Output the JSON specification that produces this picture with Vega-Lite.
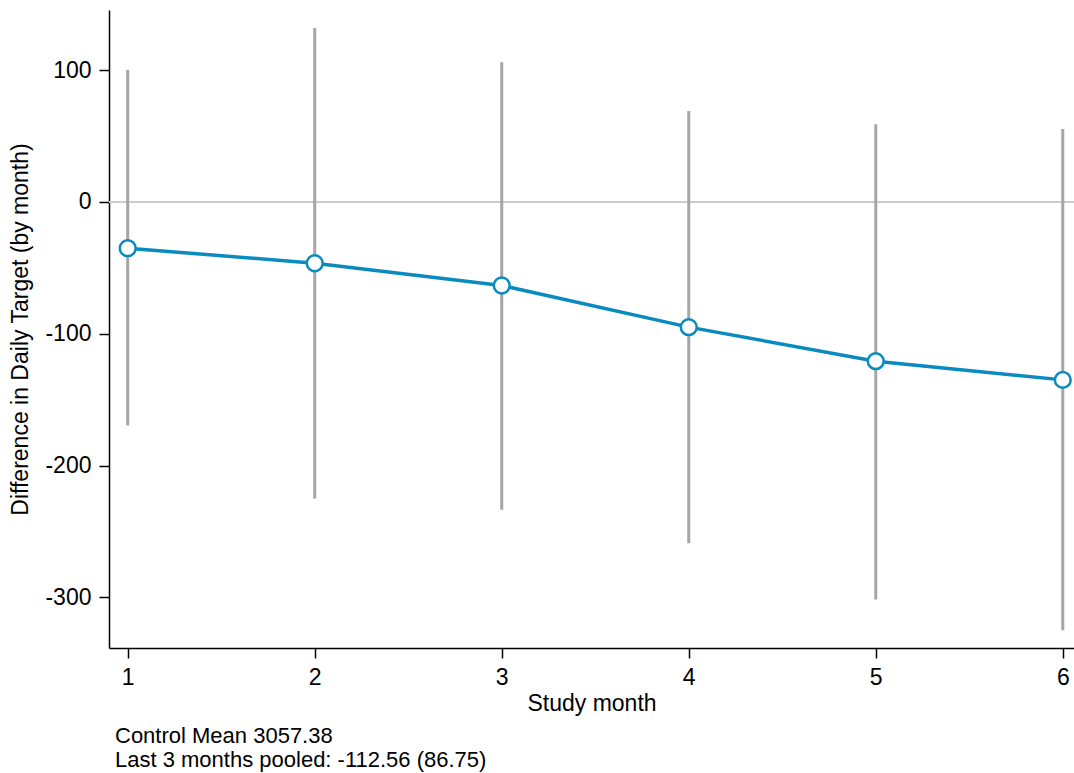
{
  "$schema": "https://vega.github.io/schema/vega-lite/v6.json",
  "width": 965,
  "height": 638,
  "autosize": {"type": "none"},
  "padding": {"left": 109, "top": 10, "right": 0, "bottom": 125},
  "background": "white",
  "title": {
    "text": ["Control Mean 3057.38", "Last 3 months pooled: -112.56 (86.75)"],
    "orient": "bottom",
    "anchor": "start",
    "frame": "group",
    "font": "Liberation Sans",
    "fontSize": 22,
    "fontWeight": "normal",
    "lineHeight": 24,
    "color": "black",
    "offset": 11,
    "dx": 6
  },
  "config": {
    "view": {"stroke": null},
    "axis": {
      "labelFont": "Liberation Sans",
      "titleFont": "Liberation Sans",
      "labelFontSize": 23,
      "titleFontSize": 23,
      "titleFontWeight": "normal",
      "labelColor": "black",
      "titleColor": "black",
      "domainColor": "black",
      "domainWidth": 1.5,
      "tickColor": "black",
      "tickWidth": 1.5,
      "tickSize": 10,
      "grid": false
    }
  },
  "data": {
    "values": [
      {"month": 1, "est": -35.1, "lo": -169.6, "hi": 100.0},
      {"month": 2, "est": -46.5, "lo": -225.0, "hi": 131.9},
      {"month": 3, "est": -63.4, "lo": -233.5, "hi": 106.0},
      {"month": 4, "est": -95.0, "lo": -259.0, "hi": 69.0},
      {"month": 5, "est": -120.8, "lo": -301.7, "hi": 59.0},
      {"month": 6, "est": -135.0, "lo": -325.0, "hi": 55.3}
    ]
  },
  "encoding": {
    "x": {
      "field": "month",
      "type": "quantitative",
      "scale": {"domain": [0.9, 6.06], "nice": false, "zero": false},
      "axis": {"values": [1, 2, 3, 4, 5, 6], "format": "d", "title": "Study month", "labelPadding": 8, "titlePadding": 3}
    },
    "y": {
      "field": "est",
      "type": "quantitative",
      "scale": {"domain": [-338.4, 145.6], "nice": false, "zero": false},
      "axis": {"values": [-300, -200, -100, 0, 100], "labelExpr": "'' + datum.value", "title": "Difference in Daily Target (by month)", "labelPadding": 8, "titlePadding": 12}
    }
  },
  "layer": [
    {
      "data": {"values": [{"zero": 0}]},
      "mark": {"type": "rule", "color": "#cccccc", "strokeWidth": 2},
      "encoding": {"y": {"field": "zero", "type": "quantitative"}, "x": null}
    },
    {
      "mark": {"type": "rule", "color": "#a6a6a6", "strokeWidth": 3},
      "encoding": {"y": {"field": "lo", "type": "quantitative"}, "y2": {"field": "hi"}}
    },
    {
      "mark": {"type": "line", "color": "#0a8bc0", "strokeWidth": 3.5}
    },
    {
      "mark": {"type": "point", "filled": false, "fill": "white", "fillOpacity": 1, "stroke": "#0a8bc0", "strokeWidth": 2.5, "size": 250, "opacity": 1}
    }
  ]
}
